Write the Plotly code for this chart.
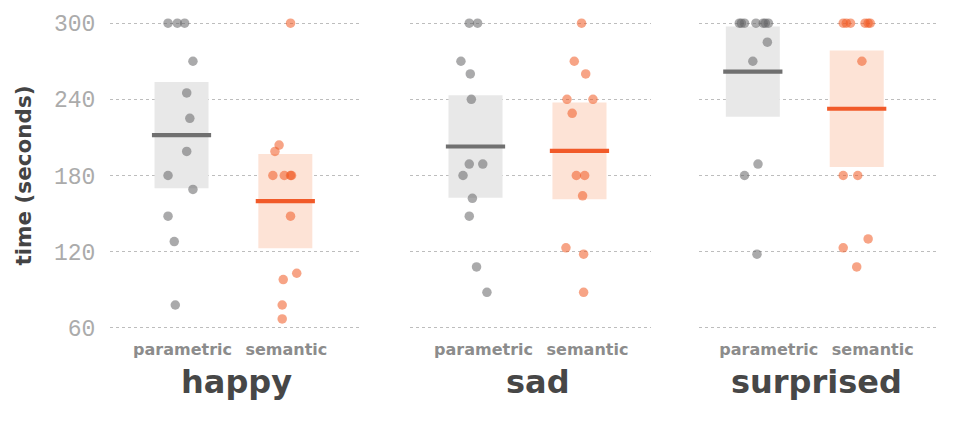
import numpy as np
import plotly.graph_objects as go

# ---------------- data ----------------
categories = ["parametric", "semantic"]
emotions = ["happy", "sad", "surprised"]
y_ticks = [60, 120, 180, 240, 300]

happy_parametric = [300, 300, 300, 270, 245, 225, 199, 180, 169, 148, 128, 78]
happy_semantic = [300, 204, 199, 180, 180, 180, 180, 148, 103, 98, 78, 67]
sad_parametric = [300, 300, 270, 260, 240, 189, 189, 180, 162, 148, 108, 88]
sad_semantic = [300, 270, 260, 240, 240, 229, 180, 180, 164, 123, 118, 88]
surprised_parametric = [300, 300, 300, 300, 300, 300, 300, 285, 270, 189, 180, 118]
surprised_semantic = [300, 300, 300, 300, 300, 300, 270, 180, 180, 130, 123, 108]

# horizontal jitter of each dot (category units)
happy_parametric_jitter = [-0.13, -0.04, 0.03, 0.11, 0.05, 0.08, 0.05, -0.13, 0.11, -0.13, -0.07, -0.06]
happy_semantic_jitter = [0.05, -0.06, -0.10, -0.12, -0.01, 0.05, 0.06, 0.05, 0.11, -0.02, -0.03, -0.03]
sad_parametric_jitter = [-0.06, 0.02, -0.14, -0.05, -0.04, -0.06, 0.07, -0.12, -0.03, -0.06, 0.01, 0.11]
sad_semantic_jitter = [0.02, -0.05, 0.06, -0.12, 0.13, -0.07, -0.03, 0.05, 0.03, -0.13, 0.04, 0.04]
surprised_parametric_jitter = [-0.13, -0.11, -0.08, 0.03, 0.10, 0.12, 0.15, 0.14, 0.00, 0.05, -0.08, 0.04]
surprised_semantic_jitter = [-0.13, -0.10, -0.06, 0.08, 0.11, 0.13, 0.05, -0.13, 0.01, 0.11, -0.13, 0.00]

series = {
    "happy": [(happy_parametric, happy_parametric_jitter), (happy_semantic, happy_semantic_jitter)],
    "sad": [(sad_parametric, sad_parametric_jitter), (sad_semantic, sad_semantic_jitter)],
    "surprised": [(surprised_parametric, surprised_parametric_jitter), (surprised_semantic, surprised_semantic_jitter)],
}

# ---------------- styles ----------------
dot_colors = ["rgba(100,100,102,0.55)", "rgba(241,90,34,0.55)"]
box_colors = ["#e8e8e8", "#fde3d6"]
mean_colors = ["#707070", "#f15a29"]
BOX_W = 0.52
MEAN_W = 0.57

x_ranges = [[-0.689, 1.729], [-0.63, 1.688], [-0.518, 1.792]]
domains = [[0, 251 / 829], [300 / 829, 541 / 829], [589 / 829, 1.0]]
label_shift = [1, 8, 16]
title_x = [236.5, 537.5, 816.5]

fig = go.Figure()

for p, emo in enumerate(emotions):
    xa = "x" if p == 0 else f"x{p+1}"
    ya = "y" if p == 0 else f"y{p+1}"
    means, cis = [], []
    for vals, _ in series[emo]:
        v = np.array(vals, dtype=float)
        means.append(v.mean())
        cis.append(1.96 * v.std(ddof=1) / np.sqrt(len(v)))
    # confidence boxes
    fig.add_trace(go.Bar(
        x=[0, 1], y=[2 * c for c in cis], base=[m - c for m, c in zip(means, cis)],
        width=BOX_W, marker=dict(color=box_colors, line=dict(width=0)),
        xaxis=xa, yaxis=ya, hoverinfo="skip", showlegend=False))
    # dots
    for i, (vals, jit) in enumerate(series[emo]):
        fig.add_trace(go.Scatter(
            x=[i + j for j in jit], y=vals, mode="markers",
            marker=dict(size=9.5, color=dot_colors[i], line=dict(width=0)),
            xaxis=xa, yaxis=ya, showlegend=False, hoverinfo="y"))
    # mean lines
    for i, m in enumerate(means):
        fig.add_trace(go.Scatter(
            x=[i - MEAN_W / 2, i + MEAN_W / 2], y=[m, m], mode="lines",
            line=dict(color=mean_colors[i], width=4.2),
            xaxis=xa, yaxis=ya, showlegend=False, hoverinfo="skip"))

layout = dict(
    width=955, height=424,
    margin=dict(l=110, r=16, t=13, b=86),
    plot_bgcolor="white", paper_bgcolor="white",
    barmode="overlay",
    showlegend=False,
)

for p in range(3):
    xkey = "xaxis" if p == 0 else f"xaxis{p+1}"
    ykey = "yaxis" if p == 0 else f"yaxis{p+1}"
    layout[xkey] = dict(
        domain=domains[p], range=x_ranges[p], anchor="y" if p == 0 else f"y{p+1}",
        tickmode="array", tickvals=[0, 1], ticktext=categories,
        ticklabelshift=label_shift[p],
        tickfont=dict(family="DejaVu Sans", size=16, color="#8c8c8c", weight="bold"),
        showgrid=False, zeroline=False, showline=False, ticks="",
    )
    layout[ykey] = dict(
        range=[52, 308], anchor="x" if p == 0 else f"x{p+1}",
        tickmode="array", tickvals=y_ticks,
        showgrid=True, gridcolor="#bdbdbd", griddash="dot", gridwidth=1,
        zeroline=False, showline=False,
        showticklabels=(p == 0),
        ticks="outside" if p == 0 else "", ticklen=9, tickcolor="rgba(0,0,0,0)",
        tickfont=dict(family="Liberation Mono", size=23, color="#ababab"),
    )
    if p > 0:
        layout[ykey]["matches"] = "y"

layout["yaxis"]["title"] = dict(
    text="time (seconds)", standoff=16,
    font=dict(family="DejaVu Sans", size=21.5, color="#444444", weight="bold"))

fig.update_layout(**layout)

for p, emo in enumerate(emotions):
    fig.add_annotation(
        text=emo, xref="paper", yref="paper",
        x=(title_x[p] - 110) / 829, y=(338 - 382) / 325,
        xanchor="center", yanchor="middle", showarrow=False,
        font=dict(family="DejaVu Sans", size=32, color="#474747", weight="bold"))

fig.write_html("out.html")
